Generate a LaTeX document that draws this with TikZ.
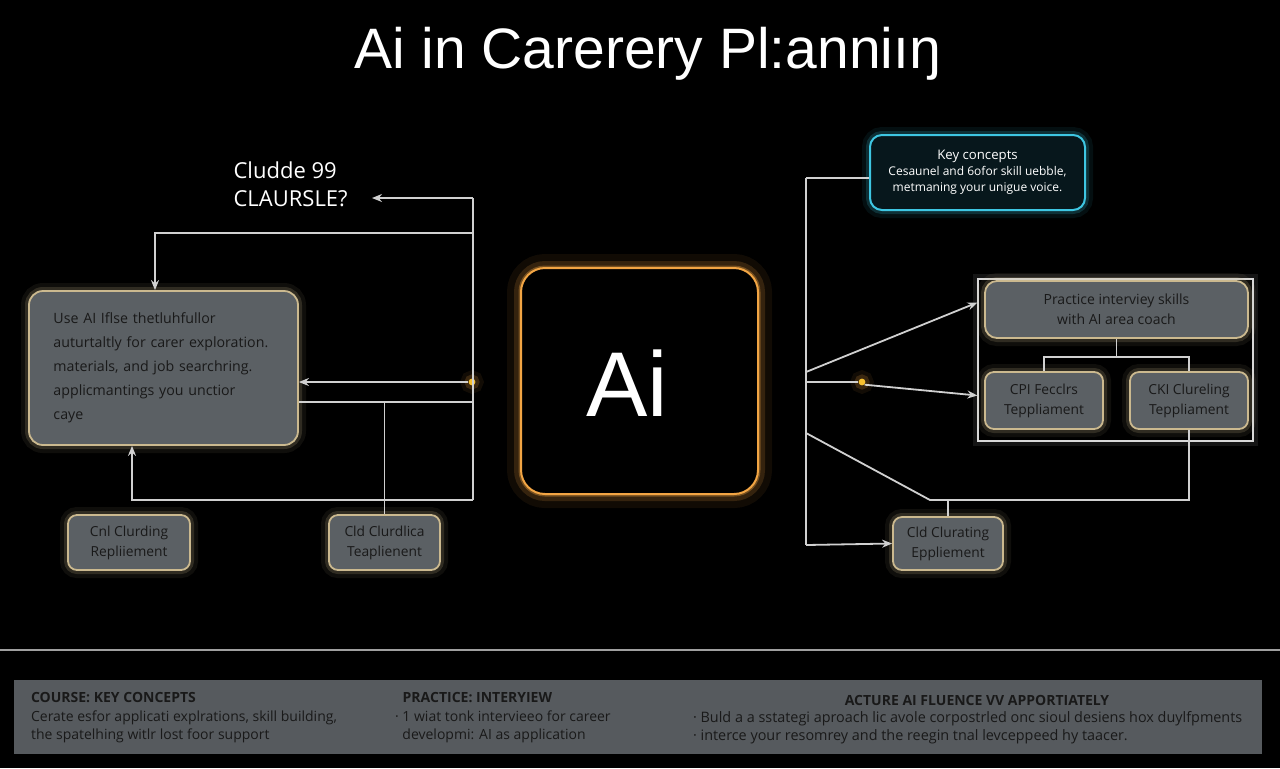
\documentclass[tikz,border=0pt]{standalone}
\usepackage{fontspec}
\setmainfont{Open Sans}
\newfontfamily\headfont{Liberation Sans}
\usetikzlibrary{positioning, arrows.meta, calc}

\definecolor{cardfill}{HTML}{5B6064}
\definecolor{cardedge}{HTML}{CBB98F}
\definecolor{wirec}{HTML}{D0D0D0}
\definecolor{aiorange}{HTML}{F2A544}
\definecolor{keycyan}{HTML}{3EC6E2}
\definecolor{keyfill}{HTML}{07171C}
\definecolor{bandfill}{HTML}{565A5E}

\begin{document}
\begin{tikzpicture}[
  x=0.5pt, y=-0.5pt,
  >={Stealth[length=5pt, width=4pt]},
  wire/.style={draw=wirec, line width=0.9pt},
  glow/.style={preaction={draw=#1, draw opacity=.08, line width=8pt},
    preaction={draw=#1, draw opacity=.18, line width=4pt}},
  card/.style={draw=cardedge, fill=cardfill, line width=0.9pt,
    rounded corners=4.5pt, glow=cardedge, text=black!90, align=center,
    font=\fontsize{6.9}{10}\selectfont, inner sep=0pt},
  spark/.style={circle, fill=aiorange!70!yellow, inner sep=1.2pt, glow=aiorange},
  bandtxt/.style={font=\fontsize{7}{9.25}\selectfont, text=black!90, align=left},
]

% background and frame of the page
\useasboundingbox (0,0) rectangle (1280,768);
\fill[black] (0,0) rectangle (1280,768);

% === Title ===
\node[font=\headfont\fontsize{28.5}{32}\selectfont, text=white] (title) at (648,54)
  {Ai in Carerery Pl:anniıŋ};

% === Centre ===
\node[draw=aiorange, fill=black, line width=1pt, rounded corners=12pt,
  minimum width=118.5pt, minimum height=113pt,
  preaction={draw=aiorange, draw opacity=.07, line width=14pt},
  preaction={draw=aiorange, draw opacity=.16, line width=7pt},
  preaction={draw=aiorange, draw opacity=.35, line width=2.5pt}] (ai) at (639.5,381) {};
\node[font=\headfont\fontsize{46}{50}\selectfont, text=white] (aitext) at (627,383) {Ai};

% === Left side ===
\node[font=\fontsize{11}{14}\selectfont, text=white, align=left,
  anchor=east, inner xsep=12pt] (cl) at (372,184) {Cludde 99\\CLAURSLE?};

\node[card, rounded corners=7pt, text width=110pt, inner xsep=12.25pt,
  minimum height=77pt, align=left, font=\fontsize{7.1}{12}\selectfont]
  (plan) at (163.5,368)
  {Use AI Iflse thetluhfullor\\auturtaltly for carer exploration.\\
   materials, and job searchring.\\applicmantings you unctior\\caye};

\node[card, minimum width=61pt, minimum height=27.5pt] (boxA) at (129,542.5)
  {Cnl Clurding\\Repliiement};
\node[card, minimum width=55.5pt, minimum height=27.5pt] (boxB) at (384.5,542.5)
  {Cld Clurdlica\\Teaplienent};

\node[spark] (dotL) at (472,382) {};

\coordinate (busLtop) at (473,198);
\coordinate (busLbot) at (473,500);
\coordinate (jL1) at (473,233);
\coordinate (kL1) at (155,233);
\coordinate (jL2) at (473,402);
\coordinate (kL3) at (132,500);

\draw[wire] (busLtop) -- (busLbot);
\draw[wire, ->] (busLtop) -- (busLtop -| cl.east);
\draw[wire, ->] (jL1) -- (kL1) -- (kL1 |- plan.north);
\draw[wire, ->] (dotL) -- (dotL -| plan.east);
\draw[wire] (jL2) -- (jL2 -| plan.east);
\draw[wire] (boxB.north) -- (boxB.north |- jL2);
\draw[wire, ->] (busLbot) -- (kL3) -- (kL3 |- plan.south);

% === Right side ===
\node[draw=keycyan, fill=keyfill, line width=1pt, rounded corners=6pt,
  glow=keycyan, minimum width=107.5pt, minimum height=37.5pt, align=center,
  text=white, font=\fontsize{6}{8}\selectfont] (key) at (977.5,172.5)
  {{\fontsize{6.6}{9}\selectfont Key concepts}\\
   Cesaunel and 6ofor skill uebble,\\metmaning your unigue voice.};

\node[draw=wirec!80, line width=0.6pt, fill=black,
  preaction={draw=wirec, draw opacity=.1, line width=5pt},
  minimum width=137.5pt, minimum height=81pt] (frame) at (1115.5,360) {};
\node[card, rounded corners=6pt, minimum width=131.5pt, minimum height=28.5pt,
  font=\fontsize{7}{10}\selectfont] (prac) at (1116.5,309.5)
  {Practice interviey skills\\with AI area coach};
\node[card, minimum width=59pt, minimum height=28.5pt] (cp) at (1044,400.5)
  {CPI Fecclrs\\Teppliament};
\node[card, minimum width=59pt, minimum height=28.5pt] (ck) at (1189,400.5)
  {CKI Clureling\\Teppliament};
\node[card, minimum width=55pt, minimum height=26.5pt] (bot) at (948,543.5)
  {Cld Clurating\\Eppliement};

\node[spark] (dotR) at (862,382) {};

\coordinate (busRtop) at (806,178);
\coordinate (busRbot) at (806,545);
\coordinate (jR1) at (806,372);
\coordinate (jR2) at (806,382);
\coordinate (jR3) at (806,433);
\coordinate (kR3) at (930,500);

\draw[wire] (busRtop) -- (busRbot);
\draw[wire] (busRtop) -- (busRtop -| key.west);
\draw[wire, ->] (jR1) -- ([yshift=3.5pt]frame.west |- prac);
\draw[wire] (jR2) -- (dotR);
\draw[wire, ->] (dotR.south east) -- ([yshift=2.5pt]frame.west |- cp);
\draw[wire] (jR3) -- (kR3) -| (ck.south);
\draw[wire] (bot.north) -- (bot.north |- kR3);
\draw[wire, ->] (busRbot) -- (bot.west);
\draw[wire] (prac.south) -- ++(0,18) coordinate (jT);
\draw[wire] (cp.north) |- (jT) -| (ck.north);

% === Footer ===
\draw[draw=gray!75, line width=0.8pt] (0,650) -- (1280,650);
\node[fill=bandfill, minimum width=624pt, minimum height=37pt, inner sep=0pt]
  (band) at (638,717) {};

\node[bandtxt, anchor=west] (col1) at (24,718)
  {\textbf{COURSE: KEY CONCEPTS}\\
   Cerate esfor applicati explrations, skill building,\\
   the spatelhing witlr lost foor support};
\node[bandtxt, anchor=west] (col2) at (388,718)
  {\textbf{\phantom{· }PRACTICE: INTERYIEW}\\
   · 1 wiat tonk intervieeo for career\\
   \phantom{· }developmi: AI as application};
\node[bandtxt, font=\bfseries\fontsize{7}{9.25}\selectfont] (head3) at (977,700)
  {ACTURE AI FLUENCE VV APPORTIATELY};
\node[bandtxt, anchor=west, font=\fontsize{7.2}{9.25}\selectfont] (col3) at (686,727.5)
  {· Buld a a sstategi aproach lic avole corpostrled onc sioul desiens hox duylfpments\\
   · interce your resomrey and the reegin tnal levceppeed hy taacer.};

\end{tikzpicture}
\end{document}
